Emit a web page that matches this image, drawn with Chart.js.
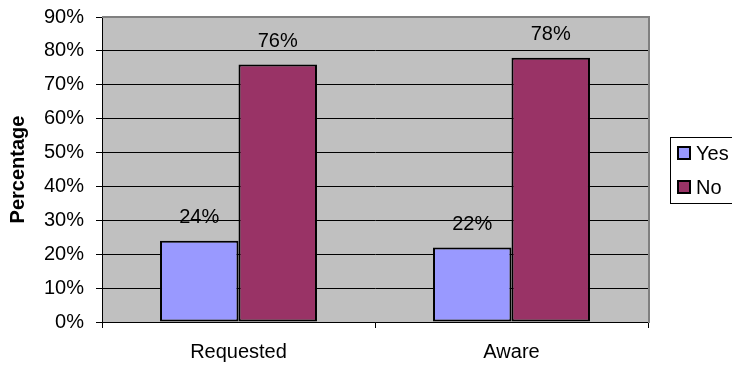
<!DOCTYPE html>
<html>
<head>
<meta charset="utf-8">
<script src="https://cdn.jsdelivr.net/npm/chart.js@4"></script>
<style>
  html, body { margin: 0; padding: 0; background: #ffffff; }
  #wrap { width: 732px; height: 366px; }
</style>
</head>
<body>
<div id="wrap"><canvas id="c" width="732" height="366"></canvas></div>
<script>
const categories = ['Requested', 'Aware'];
const yesValues = [24, 22];
const noValues = [76, 78];
const seriesNames = ['Yes', 'No'];
const yTicks = [0, 10, 20, 30, 40, 50, 60, 70, 80, 90];

const FONT = '"Liberation Sans", Arial, sans-serif';
const TEXT_SIZE = 20;

// Grey plot background with a grey frame on the top and right edges
const plotBackground = {
  id: 'plotBackground',
  beforeDraw(chart) {
    const { ctx, chartArea: a } = chart;
    ctx.save();
    ctx.fillStyle = '#C0C0C0';
    ctx.fillRect(a.left, a.top, a.right - a.left, a.bottom - a.top);
    ctx.restore();
  },
  afterDatasetsDraw(chart) {
    const { ctx, chartArea: a } = chart;
    ctx.save();
    ctx.strokeStyle = '#808080';
    ctx.lineWidth = 2;
    ctx.beginPath();
    ctx.moveTo(a.left, a.top);
    ctx.lineTo(a.right + 1, a.top);
    ctx.lineTo(a.right + 1, a.bottom + 1);
    ctx.stroke();
    ctx.restore();
  }
};

// Percentage text above each bar
const valueLabels = {
  id: 'valueLabels',
  afterDatasetsDraw(chart) {
    const { ctx } = chart;
    ctx.save();
    ctx.font = TEXT_SIZE + 'px ' + FONT;
    ctx.fillStyle = '#000000';
    ctx.textAlign = 'center';
    ctx.textBaseline = 'middle';
    chart.data.datasets.forEach((ds, i) => {
      chart.getDatasetMeta(i).data.forEach((bar, j) => {
        ctx.fillText(ds.data[j] + '%', bar.x, bar.y - 23);
      });
    });
    ctx.restore();
  }
};

// Boxed legend to the right of the plot
const sideLegend = {
  id: 'sideLegend',
  afterDraw(chart) {
    const { ctx } = chart;
    const left = 670, top = 137, bottom = 203, right = 745;
    ctx.save();
    ctx.strokeStyle = '#000000';
    ctx.lineWidth = 1;
    ctx.strokeRect(left + 0.5, top + 0.5, right - left, bottom - top);
    ctx.font = TEXT_SIZE + 'px ' + FONT;
    ctx.textBaseline = 'middle';
    ctx.textAlign = 'left';
    chart.data.datasets.forEach((ds, i) => {
      const cy = 153 + i * 34;
      ctx.fillStyle = ds.backgroundColor;
      ctx.fillRect(678, cy - 6, 12, 12);
      ctx.strokeStyle = '#000000';
      ctx.lineWidth = 2;
      ctx.strokeRect(678, cy - 6, 12, 12);
      ctx.fillStyle = '#000000';
      ctx.fillText(ds.label, 696, cy + 1);
    });
    ctx.restore();
  }
};

new Chart(document.getElementById('c'), {
  type: 'bar',
  data: {
    labels: categories,
    datasets: [
      {
        label: seriesNames[0],
        data: yesValues,
        backgroundColor: '#9999FF',
        borderColor: '#000000',
        borderWidth: 2,
        borderSkipped: false,
        categoryPercentage: 0.575,
        barPercentage: 1.0
      },
      {
        label: seriesNames[1],
        data: noValues,
        backgroundColor: '#993366',
        borderColor: '#000000',
        borderWidth: 2,
        borderSkipped: false,
        categoryPercentage: 0.575,
        barPercentage: 1.0
      }
    ]
  },
  options: {
    responsive: false,
    animation: false,
    devicePixelRatio: 1,
    layout: { padding: { left: 0, top: 17, right: 84, bottom: 0 } },
    plugins: {
      legend: { display: false },
      tooltip: { enabled: false }
    },
    scales: {
      x: {
        offset: true,
        grid: {
          offset: true,
          drawOnChartArea: false,
          drawTicks: true,
          tickLength: 6,
          tickColor: '#000000',
          lineWidth: 1
        },
        border: { display: true, color: '#000000', width: 1 },
        ticks: {
          color: '#000000',
          font: { family: FONT, size: TEXT_SIZE },
          padding: 12
        },
        afterFit(scale) { scale.height = 44; }
      },
      y: {
        min: 0,
        max: 90,
        afterBuildTicks(scale) { scale.ticks = yTicks.map(v => ({ value: v })); },
        grid: {
          color: (c) => c.tick && c.tick.value === 90 ? '#808080' : '#000000',
          tickColor: '#000000',
          tickLength: 6,
          lineWidth: 1
        },
        border: { display: true, color: '#000000', width: 1 },
        ticks: {
          color: '#000000',
          font: { family: FONT, size: TEXT_SIZE },
          padding: 12,
          callback: (v) => v + '%'
        },
        title: {
          display: true,
          text: 'Percentage',
          color: '#000000',
          font: { family: FONT, size: TEXT_SIZE, weight: 'bold' },
          padding: { top: 6, bottom: 0 }
        },
        afterFit(scale) {
          scale.width = 102;
          scale.paddingTop = 0;
          scale.paddingBottom = 0;
        }
      }
    }
  },
  plugins: [plotBackground, valueLabels, sideLegend]
});
</script>
</body>
</html>
